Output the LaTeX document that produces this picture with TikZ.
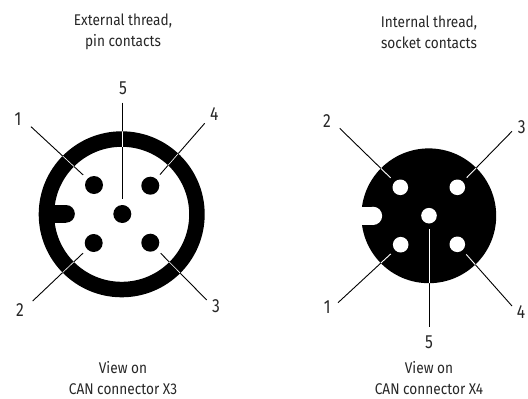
\documentclass[tikz,border=0pt]{standalone}
\usepackage{fontspec}
\setmainfont{Fira Sans}
\newfontfamily\capfont[FakeStretch=0.88]{Fira Sans}
\newfontfamily\numfont[FakeStretch=0.82]{Fira Sans}
\tikzset{
 px/.style={x=1pt,y=-1pt},
 lbl/.style={font=\capfont\fontsize{15.5}{21}\selectfont,align=center,text=black!85,inner sep=0pt},
 num/.style={font=\numfont\fontsize{19}{19}\selectfont,text=black!85,inner sep=0pt},
 lead/.style={line width=0.9pt,draw=black,shorten >=5.5pt},
 cross/.style={line width=0.6pt,draw=white,shorten >=5.5pt},
 pinc/.style={circle,fill=black,minimum size=18pt,inner sep=0pt},
 sock/.style={circle,fill=white,minimum size=15.6pt,inner sep=0pt}
}
\begin{document}
\begin{tikzpicture}[px]
\useasboundingbox (0,0) rectangle (528,399);
\node[lbl] (t1) at (123,32) {External thread,\\pin contacts};
\node[lbl] (t2) at (429,32) {Internal thread,\\socket contacts};
\node[lbl] (b1) at (123,378) {View on\\CAN connector X3};
\node[lbl] (b2) at (429,378) {View on\\CAN connector X4};
% left connector
\fill[black,even odd rule] (121.7,214.3) circle (83) (121.7,214.3) circle (67.5);
\fill[black] (50,205) rectangle (66,222.7);
\fill[black] (66,213.85) circle (8.85);
\node[pinc] (p1) at (94,185) {};
\node[pinc] (p4) at (150.3,185.7) {};
\node[pinc] (p5) at (122.3,214) {};
\node[pinc] (p2) at (93.7,243) {};
\node[pinc] (p3) at (150.3,242.7) {};
\node[num] (n1) at (18,119) {1};
\node[num] (n4) at (214.3,114) {4};
\node[num] (n5) at (123,88) {5};
\node[num] (n2) at (20,310) {2};
\node[num] (n3) at (216,306) {3};
\coordinate (a1) at (31,126.7);
\coordinate (a4) at (204.7,123.3);
\coordinate (a5) at (122.3,102.7);
\coordinate (a2) at (32.7,301);
\coordinate (a3) at (206.7,300);
\foreach \a/\p in {a1/p1,a4/p4,a5/p5,a2/p2,a3/p3}{\draw[lead] (\a) -- (\p);}
\begin{scope}[even odd rule]
\clip (121.7,214.3) circle (83) (121.7,214.3) circle (67.5);
\foreach \a/\p in {a1/p1,a4/p4,a5/p5,a2/p2,a3/p3}{\draw[cross] (\a) -- (\p);}
\end{scope}
% right connector
\fill[black] (428.8,215.8) circle (67.4);
\fill[white] (358,206.7) rectangle (373,225);
\fill[white] (373,215.85) circle (9.15);
\node[sock] (s2) at (400.3,187.3) {};
\node[sock] (s3) at (457.3,187.3) {};
\node[sock] (s5) at (429,215.7) {};
\node[sock] (s1) at (400.7,244.7) {};
\node[sock] (s4) at (457.3,244.3) {};
\node[num] (m2) at (327,121) {2};
\node[num] (m3) at (521.7,127.3) {3};
\node[num] (m5) at (429,342) {5};
\node[num] (m1) at (327.3,307) {1};
\node[num] (m4) at (521,311.7) {4};
\coordinate (c2) at (339.7,128.3);
\coordinate (c3) at (512,131.3);
\coordinate (c5) at (429,326.7);
\coordinate (c1) at (338,302.7);
\coordinate (c4) at (512,306);
\foreach \a/\p in {c2/s2,c3/s3,c5/s5,c1/s1,c4/s4}{\draw[lead] (\a) -- (\p);}
\begin{scope}
\clip (428.8,215.8) circle (67.4);
\foreach \a/\p in {c2/s2,c3/s3,c5/s5,c1/s1,c4/s4}{\draw[cross,line width=0.9pt] (\a) -- (\p);}
\end{scope}
\end{tikzpicture}
\end{document}
